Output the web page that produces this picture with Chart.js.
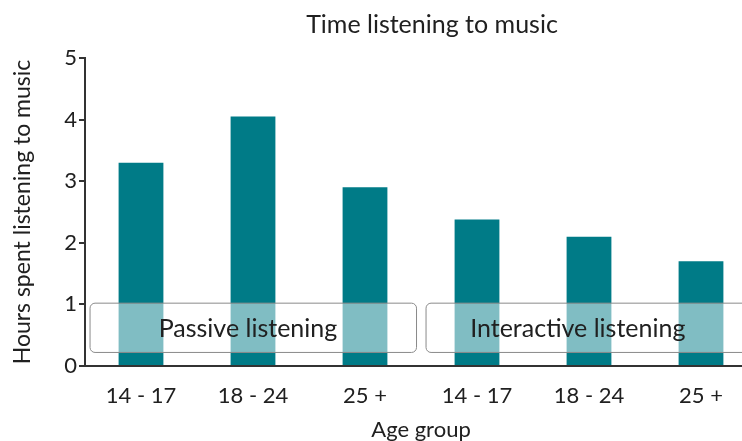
<!DOCTYPE html>
<html>
<head>
<meta charset="utf-8">
<script src="https://cdn.jsdelivr.net/npm/chart.js@4.4.1/dist/chart.umd.min.js"></script>
<style>
  html, body { margin: 0; padding: 0; overflow: hidden; background: #fff; }
  #wrap { width: 770px; height: 441px; }
</style>
</head>
<body>
<div id="wrap"><canvas id="musicChart"></canvas></div>
<script>
// Time listening to music - hours per age group
const ageGroups = ['14 - 17', '18 - 24', '25 +', '14 - 17', '18 - 24', '25 +'];
const hoursListening = [3.3, 4.05, 2.9, 2.38, 2.1, 1.7];
const yTicks = [0, 1, 2, 3, 4, 5];

const FONT = 'Lato, "DejaVu Sans", sans-serif';
const TEXT = '#202020';
const TEAL = '#007b87';

// Boxes drawn over the bars, labelling the two listening types
const groupBoxes = {
    id: 'groupBoxes',
    afterDatasetsDraw(chart) {
        const ctx = chart.ctx;
        const x = chart.scales.x;
        const y = chart.scales.y;
        const boxes = [
            { from: -0.455, to: 2.46, text: 'Passive listening', at: 0.955 },
            { from: 2.545, to: 5.45, text: 'Interactive listening', at: 3.9 }
        ];
        ctx.save();
        boxes.forEach(b => {
            const x0 = x.getPixelForValue(b.from);
            const x1 = x.getPixelForValue(b.to);
            const y0 = y.getPixelForValue(1.02);
            const y1 = y.getPixelForValue(0.22);
            ctx.beginPath();
            ctx.roundRect(x0, y0, x1 - x0, y1 - y0, 5);
            ctx.fillStyle = 'rgba(255,255,255,0.5)';
            ctx.fill();
            ctx.lineWidth = 1;
            ctx.strokeStyle = '#8a8a8a';
            ctx.stroke();
            ctx.fillStyle = TEXT;
            ctx.font = '25px ' + FONT;
            ctx.textAlign = 'center';
            ctx.textBaseline = 'middle';
            ctx.fillText(b.text, x.getPixelForValue(b.at), (y0 + y1) / 2 + 1);
        });
        ctx.restore();
    }
};

// Chart title, placed as in the original
const chartTitle = {
    id: 'chartTitle',
    afterDraw(chart) {
        const ctx = chart.ctx;
        ctx.save();
        ctx.fillStyle = TEXT;
        ctx.textAlign = 'center';
        ctx.textBaseline = 'alphabetic';
        ctx.font = '25px ' + FONT;
        ctx.fillText('Time listening to music', 432, 33);
        ctx.restore();
    }
};

const ctx = document.getElementById('musicChart').getContext('2d');
const chart = new Chart(ctx, {
    type: 'bar',
    data: {
        labels: ageGroups,
        datasets: [{
            data: hoursListening,
            backgroundColor: TEAL,
            borderWidth: 0,
            categoryPercentage: 1,
            barPercentage: 0.4
        }]
    },
    options: {
        responsive: true,
        maintainAspectRatio: false,
        animation: false,
        layout: {
            padding: { top: 58, right: 13, left: 0, bottom: 0 }
        },
        plugins: {
            legend: { display: false },
            tooltip: { enabled: false }
        },
        scales: {
            x: {
                grid: { display: false, drawTicks: false },
                border: { color: '#333', width: 2 },
                ticks: {
                    color: TEXT,
                    padding: 17,
                    font: { family: FONT, size: 22 }
                },
                title: {
                    display: true,
                    text: 'Age group',
                    color: TEXT,
                    font: { family: FONT, size: 22 },
                    padding: { top: 0, bottom: -2 }
                },
                afterFit(scale) { scale.height = 75; }
            },
            y: {
                min: 0,
                max: 5,
                afterBuildTicks(scale) {
                    scale.ticks = yTicks.map(v => ({ value: v }));
                },
                grid: {
                    drawOnChartArea: false,
                    drawTicks: true,
                    tickLength: 6,
                    color: '#333',
                    lineWidth: 2
                },
                border: { color: '#333', width: 2 },
                ticks: {
                    color: TEXT,
                    padding: 2,
                    font: { family: FONT, size: 22 }
                },
                title: {
                    display: true,
                    text: 'Hours spent listening to music',
                    color: TEXT,
                    font: { family: FONT, size: 23 },
                    padding: { top: 9, bottom: 0 }
                },
                afterFit(scale) { scale.width = 85; }
            }
        }
    },
    plugins: [groupBoxes, chartTitle]
});
</script>
</body>
</html>
